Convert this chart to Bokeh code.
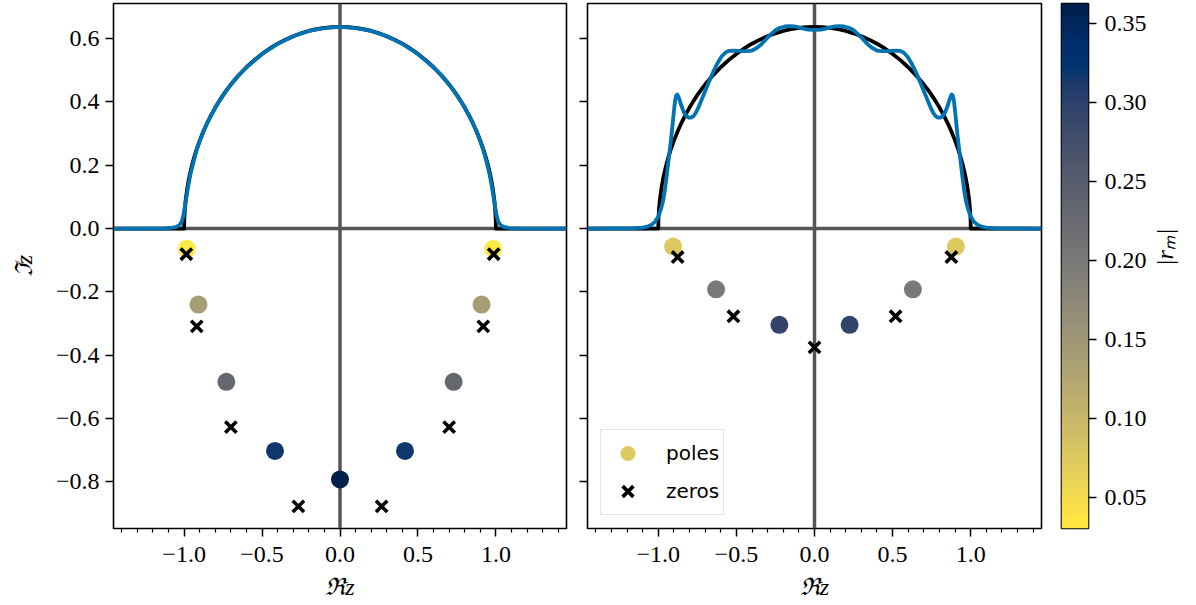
import numpy as np
from math import pi
from bokeh.plotting import figure
from bokeh.models import (ColumnDataSource, LinearColorMapper, FixedTicker,
                          CustomJSTickFormatter, Span, Legend, LegendItem, Range1d)
from bokeh.layouts import row
from bokeh.palettes import Cividis256
from bokeh.embed import file_html
from bokeh.resources import INLINE

# ---------------- data ----------------
# target density (black)
sc_x = [-1.45, -1.0, -0.999, -0.995, -0.99, -0.98, -0.97, -0.96, -0.95, -0.935, -0.92, -0.9, -0.875,
        -0.85, -0.825, -0.8, -0.775, -0.75, -0.725, -0.7, -0.65, -0.6, -0.55, -0.5, -0.45, -0.4,
        -0.35, -0.3, -0.25, -0.2, -0.15, -0.1, -0.05, 0.0, 0.05, 0.1, 0.15, 0.2, 0.25, 0.3, 0.35,
        0.4, 0.45, 0.5, 0.55, 0.6, 0.65, 0.7, 0.725, 0.75, 0.775, 0.8, 0.825, 0.85, 0.875, 0.9,
        0.92, 0.935, 0.95, 0.96, 0.97, 0.98, 0.99, 0.995, 0.999, 1.0, 1.45]
sc_y = [0.0, 0.0, 0.0285, 0.0636, 0.0898, 0.1267, 0.1548, 0.1783, 0.1988, 0.2258, 0.2495, 0.2775,
        0.3082, 0.3354, 0.3598, 0.3820, 0.4023, 0.4211, 0.4385, 0.4546, 0.4838, 0.5093, 0.5317,
        0.5513, 0.5685, 0.5835, 0.5964, 0.6073, 0.6164, 0.6238, 0.6294, 0.6334, 0.6358, 0.6366,
        0.6358, 0.6334, 0.6294, 0.6238, 0.6164, 0.6073, 0.5964, 0.5835, 0.5685, 0.5513, 0.5317,
        0.5093, 0.4838, 0.4546, 0.4385, 0.4211, 0.4023, 0.3820, 0.3598, 0.3354, 0.3082, 0.2775,
        0.2495, 0.2258, 0.1988, 0.1783, 0.1548, 0.1267, 0.0898, 0.0636, 0.0285, 0.0, 0.0]

# left panel: rational approximation (blue)
fitL_x = [-1.45, -1.12, -1.08, -1.05, -1.03, -1.015, -1.005, -0.995, -0.985, -0.975, -0.96, -0.94,
          -0.92, -0.9, -0.875, -0.85, -0.8, -0.75, -0.7, -0.65, -0.6, -0.5, -0.4, -0.3, -0.2, -0.1,
          0.0, 0.1, 0.2, 0.3, 0.4, 0.5, 0.6, 0.65, 0.7, 0.75, 0.8, 0.85, 0.875, 0.9, 0.92, 0.94,
          0.96, 0.975, 0.985, 0.995, 1.005, 1.015, 1.03, 1.05, 1.08, 1.12, 1.45]
fitL_y = [0.0, 0.0005, 0.002, 0.005, 0.011, 0.022, 0.04, 0.07, 0.10, 0.13, 0.17, 0.21, 0.247,
          0.276, 0.308, 0.335, 0.382, 0.421, 0.455, 0.484, 0.509, 0.551, 0.583, 0.607, 0.624,
          0.633, 0.637, 0.633, 0.624, 0.607, 0.583, 0.551, 0.509, 0.484, 0.455, 0.421, 0.382,
          0.335, 0.308, 0.276, 0.247, 0.21, 0.17, 0.13, 0.10, 0.07, 0.04, 0.022, 0.011, 0.005,
          0.002, 0.0005, 0.0]

# right panel: rational approximation (blue)
fitR_x = [-1.45, -1.15, -1.10, -1.07, -1.04, -1.02, -1.0, -0.985, -0.97, -0.958, -0.945, -0.932,
          -0.92, -0.91, -0.90, -0.892, -0.885, -0.878, -0.87, -0.86, -0.848, -0.835, -0.82, -0.805,
          -0.79, -0.775, -0.76, -0.745, -0.72, -0.695, -0.67, -0.645, -0.62, -0.595, -0.57, -0.545,
          -0.52, -0.49, -0.46, -0.43, -0.40, -0.37, -0.34, -0.31, -0.28, -0.25, -0.22, -0.19, -0.16,
          -0.13, -0.10, -0.07, -0.04, 0.0, 0.04, 0.07, 0.10, 0.13, 0.16, 0.19, 0.22, 0.25, 0.28,
          0.31, 0.34, 0.37, 0.40, 0.43, 0.46, 0.49, 0.52, 0.545, 0.57, 0.595, 0.62, 0.645, 0.67,
          0.695, 0.72, 0.745, 0.76, 0.775, 0.79, 0.805, 0.82, 0.835, 0.848, 0.86, 0.87, 0.878,
          0.885, 0.892, 0.90, 0.91, 0.92, 0.932, 0.945, 0.958, 0.97, 0.985, 1.0, 1.02, 1.04, 1.07,
          1.10, 1.15, 1.45]
fitR_y = [0.0, 0.001, 0.003, 0.006, 0.013, 0.022, 0.038, 0.058, 0.085, 0.12, 0.17, 0.225, 0.275,
          0.32, 0.37, 0.405, 0.42, 0.423, 0.415, 0.40, 0.382, 0.366, 0.355, 0.350, 0.350, 0.355,
          0.365, 0.38, 0.41, 0.44, 0.47, 0.498, 0.523, 0.543, 0.556, 0.561, 0.562, 0.561, 0.56,
          0.56, 0.562, 0.57, 0.582, 0.598, 0.613, 0.626, 0.634, 0.638, 0.639, 0.638, 0.635, 0.631,
          0.628, 0.627, 0.628, 0.631, 0.635, 0.638, 0.639, 0.638, 0.634, 0.626, 0.613, 0.598,
          0.582, 0.57, 0.562, 0.56, 0.56, 0.561, 0.562, 0.561, 0.556, 0.543, 0.523, 0.498, 0.47,
          0.44, 0.41, 0.38, 0.365, 0.355, 0.350, 0.350, 0.355, 0.366, 0.382, 0.40, 0.415, 0.423,
          0.42, 0.405, 0.37, 0.32, 0.275, 0.225, 0.17, 0.12, 0.085, 0.058, 0.038, 0.022, 0.013,
          0.006, 0.003, 0.001, 0.0]

# poles / zeros, left panel
polesL_x = [-0.983, -0.908, -0.729, -0.417, 0.0, 0.417, 0.729, 0.908, 0.983]
polesL_y = [-0.064, -0.240, -0.484, -0.702, -0.792, -0.702, -0.484, -0.240, -0.064]
polesL_r = [0.031, 0.14, 0.229, 0.318, 0.362, 0.318, 0.229, 0.14, 0.031]
zerosL_x = [-0.986, -0.919, -0.700, -0.267, 0.267, 0.700, 0.919, 0.986]
zerosL_y = [-0.081, -0.309, -0.627, -0.877, -0.877, -0.627, -0.309, -0.081]

# poles / zeros, right panel
polesR_x = [-0.905, -0.630, -0.225, 0.225, 0.630, 0.905]
polesR_y = [-0.057, -0.192, -0.304, -0.304, -0.192, -0.057]
polesR_r = [0.075, 0.20, 0.295, 0.295, 0.20, 0.075]
zerosR_x = [-0.876, -0.519, 0.0, 0.519, 0.876]
zerosR_y = [-0.090, -0.277, -0.375, -0.277, -0.090]

x_ticks = [-1.0, -0.5, 0.0, 0.5, 1.0]
x_minor = [-1.4, -1.3, -1.2, -1.1, -0.9, -0.8, -0.7, -0.6, -0.4, -0.3, -0.2, -0.1,
           0.1, 0.2, 0.3, 0.4, 0.6, 0.7, 0.8, 0.9, 1.1, 1.2, 1.3, 1.4]
y_ticks = [-0.8, -0.6, -0.4, -0.2, 0.0, 0.2, 0.4, 0.6]
cb_ticks = [0.05, 0.10, 0.15, 0.20, 0.25, 0.30, 0.35]
r_low, r_high = 0.0305, 0.3625

# ---------------- style ----------------
SERIF = "Liberation Serif"
SANS = "DejaVu Sans"
BLUE = "#0173B2"
GRAY = "#555555"
FRAME_H = 525

mapper = LinearColorMapper(palette=list(reversed(Cividis256)), low=r_low, high=r_high)
fmt1 = CustomJSTickFormatter(code="return tick.toFixed(1).replace('-', '\\u2212');")
fmt2 = CustomJSTickFormatter(code="return tick.toFixed(2);")
fmt_blank = CustomJSTickFormatter(code="return '';")

y_range = Range1d(-0.947, 0.7105)


def style_axis(ax):
    ax.axis_line_color = None
    ax.major_tick_out = 8
    ax.major_tick_in = 0
    ax.minor_tick_out = 4
    ax.minor_tick_in = 0
    ax.major_tick_line_width = 1.5
    ax.minor_tick_line_width = 1.2
    ax.major_tick_line_color = "black"
    ax.minor_tick_line_color = "black"
    ax.major_label_text_font = SERIF
    ax.major_label_text_font_size = "24px"
    ax.major_label_text_color = "black"
    ax.axis_label_text_font = SERIF
    ax.axis_label_text_font_size = "24px"
    ax.axis_label_text_font_style = "italic"
    ax.axis_label_text_color = "black"


def make_panel(left_border, frame_w, show_ylabels, fit_x, fit_y, px, py, pr, zx, zy):
    p = figure(frame_width=frame_w, frame_height=FRAME_H,
               x_range=Range1d(-1.453, 1.453), y_range=y_range,
               output_backend="svg", toolbar_location=None,
               min_border_left=left_border, min_border_right=10,
               min_border_top=3, min_border_bottom=77)
    p.grid.visible = False
    p.outline_line_color = "black"
    p.outline_line_width = 1.6
    p.background_fill_color = "white"
    p.border_fill_color = "white"

    p.xaxis.ticker = FixedTicker(ticks=x_ticks, minor_ticks=x_minor)
    p.xaxis.formatter = fmt1
    p.xaxis.axis_label = "\u211cz"
    p.yaxis.ticker = FixedTicker(ticks=y_ticks, minor_ticks=[])
    style_axis(p.xaxis[0])
    style_axis(p.yaxis[0])
    p.xaxis.major_label_standoff = 10
    p.xaxis.axis_label_standoff = 9
    if show_ylabels:
        p.yaxis.formatter = fmt1
        p.yaxis.axis_label = "\u2111z"
        p.yaxis.major_label_standoff = 6
        p.yaxis.axis_label_standoff = 16
    else:
        p.yaxis.formatter = fmt_blank
        p.yaxis.major_label_standoff = 0

    p.add_layout(Span(location=0, dimension="height", line_color=GRAY, line_width=3.5, level="underlay"))
    p.add_layout(Span(location=0, dimension="width", line_color=GRAY, line_width=3.5, level="underlay"))

    p.line(sc_x, sc_y, line_color="black", line_width=3.8, line_join="round")
    p.line(fit_x, fit_y, line_color=BLUE, line_width=3.8, line_join="round")

    src_p = ColumnDataSource(dict(x=px, y=py, r=pr))
    rp = p.scatter("x", "y", source=src_p, marker="circle", size=18,
                   fill_color={"field": "r", "transform": mapper}, line_color=None)
    src_z = ColumnDataSource(dict(x=zx, y=zy))
    rz = p.scatter("x", "y", source=src_z, marker="x", size=16, line_width=3.6, line_color="black")
    return p, rp, rz


pL, _, _ = make_panel(113, 453, True, fitL_x, fitL_y, polesL_x, polesL_y, polesL_r, zerosL_x, zerosL_y)
pR, rpR, rzR = make_panel(11, 454, False, fitR_x, fitR_y, polesR_x, polesR_y, polesR_r, zerosR_x, zerosR_y)

legend = Legend(items=[LegendItem(label="poles", renderers=[rpR]),
                       LegendItem(label="zeros", renderers=[rzR])],
                location="bottom_left", margin=13, padding=4, spacing=0,
                glyph_width=45, glyph_height=38, label_height=38, label_standoff=16,
                label_text_font=SANS, label_text_font_size="20px", label_text_color="black",
                border_line_color="#cccccc", border_line_width=1.5,
                background_fill_color="white", background_fill_alpha=1.0)
pR.add_layout(legend)

# colour bar as its own small panel
pc = figure(frame_width=27, frame_height=FRAME_H, x_range=Range1d(0, 1),
            y_range=Range1d(r_low, r_high), y_axis_location="right", x_axis_location=None,
            output_backend="svg", toolbar_location=None,
            min_border_left=10, min_border_right=108, min_border_top=3, min_border_bottom=77)
pc.grid.visible = False
pc.outline_line_color = "black"
pc.outline_line_width = 1.6
grad = np.linspace(r_low, r_high, 256).reshape(-1, 1)
pc.image(image=[grad], x=0, y=r_low, dw=1, dh=r_high - r_low, color_mapper=mapper)
pc.yaxis.ticker = FixedTicker(ticks=cb_ticks, minor_ticks=[])
pc.yaxis.formatter = fmt2
style_axis(pc.yaxis[0])
pc.yaxis.major_label_standoff = 8
pc.yaxis.axis_label = "|r\u2098|"
pc.yaxis.axis_label_standoff = 15
if "axis_label_orientation" in pc.yaxis[0].properties():
    pc.yaxis[0].axis_label_orientation = pi / 2

layout = row(pL, pR, pc, spacing=0)
open("out.html", "w").write(file_html(layout, INLINE))
